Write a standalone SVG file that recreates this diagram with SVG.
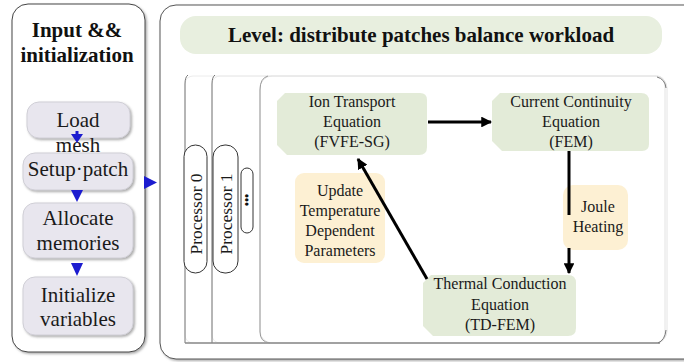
<svg xmlns="http://www.w3.org/2000/svg" width="684" height="362" viewBox="0 0 684 362">
<defs>
<style>
.t{font-family:"Liberation Serif","Times New Roman",serif;fill:#1a1a1a;text-anchor:middle}
.tb{font-family:"Liberation Serif","Times New Roman",serif;font-weight:bold;fill:#111;text-anchor:middle}
.gray{fill:#e8e6ee;stroke:#d0cfd6;stroke-width:1}
.green{fill:#e3ebd8}
.orange{fill:#fdf0d3}
.pill{fill:#fff;stroke:#333;stroke-width:1}
.blk{stroke:#000;stroke-width:3;fill:none}
</style>
<marker id="ah" viewBox="0 0 10 10" refX="9" refY="5" markerWidth="3.6" markerHeight="3.6" orient="auto" markerUnits="strokeWidth">
<path d="M0,0 L10,5 L0,10 z" fill="#000"/>
</marker>
<filter id="sh" x="-10%" y="-10%" width="130%" height="130%">
<feDropShadow dx="1.5" dy="1.5" stdDeviation="1" flood-color="#888" flood-opacity="0.7"/>
</filter>
</defs>

<!-- Left panel -->
<g id="left-panel">
<rect x="12" y="4" width="133" height="348" rx="16" fill="#fff" stroke="#444" stroke-width="1" filter="url(#sh)"/>
<text class="tb" font-size="21" x="77" y="37">Input &amp;&amp;</text>
<text class="tb" font-size="21" x="77" y="62">initialization</text>
</g>

<g id="load-mesh">
<rect class="gray" x="27" y="102" width="103" height="36" rx="12" filter="url(#sh)"/>
<text class="t" font-size="21" x="78" y="127">Load</text>
<text class="t" font-size="21" x="78" y="152">mesh</text>
</g>
<g id="setup-patch">
<rect class="gray" x="23" y="153" width="110" height="37" rx="12" filter="url(#sh)"/>
<text class="t" font-size="21" x="78" y="176">Setup·patch</text>
</g>
<g id="allocate">
<rect class="gray" x="23" y="203" width="110" height="55" rx="12" filter="url(#sh)"/>
<text class="t" font-size="21" x="78" y="225">Allocate</text>
<text class="t" font-size="21" x="78" y="250">memories</text>
</g>
<g id="initialize">
<rect class="gray" x="23" y="277" width="110" height="58" rx="12" filter="url(#sh)"/>
<text class="t" font-size="21" x="78" y="302">Initialize</text>
<text class="t" font-size="21" x="78" y="326">variables</text>
</g>

<!-- Right panel -->
<g id="right-panel">
<rect x="160" y="5" width="600" height="354" rx="16" fill="#fff" stroke="#555" stroke-width="1" filter="url(#sh)"/>
</g>
<g id="level-title">
<rect x="180" y="16" width="482" height="38" rx="16" fill="#e8efdf"/>
<text class="tb" font-size="21" x="421" y="42">Level: distribute patches balance workload</text>
</g>

<g id="processor-frames" fill="none">
<rect x="185" y="76" width="480" height="267" rx="8" stroke="#ececec"/>
<rect x="212" y="76" width="453" height="267" rx="8" stroke="#ececec"/>
<rect x="260" y="76" width="407" height="267" rx="12" stroke="#e4e4e4"/>
<path d="M185,343 V84 Q185,77 188,75" stroke="#777"/>
<path d="M212,343 V84 Q212,77 215,75" stroke="#777"/>
<path d="M185,343 H660" stroke="#888" stroke-width="1.5"/>
<path d="M268,76 Q260,78 260,90 V332 Q260,342 270,343" stroke="#999"/>
<path d="M657,77 Q665,79 666,88" stroke="#777"/>
<path d="M666,330 Q665,340 658,343" stroke="#777"/>
</g>

<g id="processor0">
<rect class="pill" x="184" y="145" width="23" height="128" rx="11.5"/>
<text class="t" font-size="17.5" transform="translate(201.5,214) rotate(-90)">Processor 0</text>
</g>
<g id="processor1">
<rect class="pill" x="213" y="145" width="25" height="128" rx="12"/>
<text class="t" font-size="17.5" transform="translate(231.5,214) rotate(-90)">Processor 1</text>
</g>
<g id="processor-more">
<rect class="pill" x="241" y="168" width="12" height="65" rx="6"/>
<text class="tb" font-size="12" transform="translate(251,200) rotate(-90)">•••</text>
</g>

<g id="ion-transport">
<path class="green" d="M285,93 H420 Q427,93 427,100 V147 Q427,155 419,155 H287 L277,145 V101 Z"/>
<text class="t" font-size="16" x="352" y="107">Ion Transport</text>
<text class="t" font-size="16" x="352" y="127">Equation</text>
<text class="t" font-size="16" x="352" y="147">(FVFE-SG)</text>
</g>
<g id="current-continuity">
<path class="green" d="M500,93 H641 Q649,93 649,101 V144 Q649,151 642,151 H502 L492,141 V101 Z"/>
<text class="t" font-size="16" x="571" y="107">Current Continuity</text>
<text class="t" font-size="16" x="571" y="127">Equation</text>
<text class="t" font-size="16" x="571" y="147">(FEM)</text>
</g>
<g id="joule-heating">
<rect class="orange" x="563" y="185" width="65" height="65" rx="10"/>
<text class="t" font-size="16" x="598" y="212">Joule</text>
<text class="t" font-size="16" x="598" y="232">Heating</text>
</g>
<g id="update-params">
<rect class="orange" x="295" y="173" width="90" height="90" rx="9"/>
<text class="t" font-size="16" x="340" y="196">Update</text>
<text class="t" font-size="16" x="340" y="216">Temperature</text>
<text class="t" font-size="16" x="340" y="236">Dependent</text>
<text class="t" font-size="16" x="340" y="256">Parameters</text>
</g>
<g id="thermal-conduction">
<path class="green" d="M431,275 H568 Q576,275 576,283 V328 Q576,336 568,336 H433 L423,326 V283 Z"/>
<text class="t" font-size="16" x="500" y="289">Thermal Conduction</text>
<text class="t" font-size="16" x="500" y="310">Equation</text>
<text class="t" font-size="16" x="500" y="330">(TD-FEM)</text>
</g>

<g id="connectors">
<g fill="#1c1ccf">
<path d="M71,134 L83,134 L77,143 Z"/>
<rect x="75.5" y="131" width="3" height="4"/>
<path d="M71,190 L83,190 L77,202 Z"/>
<path d="M71,263 L83,263 L77,276 Z"/>
<path d="M144,176 L157,182.5 L144,189 Z"/>
</g>
<line class="blk" x1="428" y1="122" x2="491" y2="122" marker-end="url(#ah)"/>
<line class="blk" x1="569" y1="151" x2="569" y2="215"/>
<line class="blk" x1="569" y1="248" x2="569" y2="273" marker-end="url(#ah)"/>
<line class="blk" x1="427" y1="279" x2="358" y2="159" marker-end="url(#ah)"/>
</g>
</svg>
